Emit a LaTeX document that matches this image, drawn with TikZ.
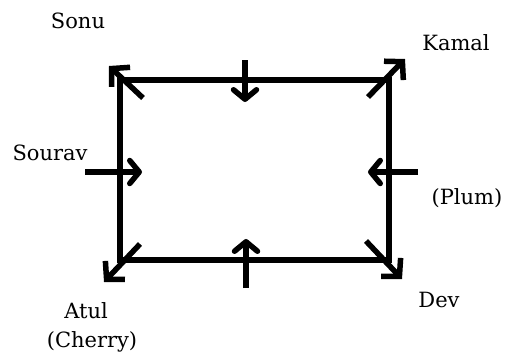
\documentclass[tikz,border=0pt]{standalone}
\usepackage{fontspec}
\setmainfont{DejaVu Serif}
\usetikzlibrary{arrows.meta}
\begin{document}
\begin{tikzpicture}[x=1pt,y=-1pt,
  edge/.style={line width=5.5pt, line cap=rect},
  cornerarrow/.style={line width=5.5pt, -{Straight Barb[length=12.5pt,width=27pt]}},
  midarrow/.style={line width=5.5pt, line join=round, -{Straight Barb[length=9.5pt,width=23pt,round]}},
  lbl/.style={font=\fontsize{21}{25}\selectfont, inner sep=0pt, anchor=base}]
\useasboundingbox (0,0) rectangle (505,356);
% rectangle corners
\coordinate (tl) at (120,80);
\coordinate (tr) at (389,80);
\coordinate (br) at (389,260);
\coordinate (bl) at (120,260);
\draw[edge] (tl) -- (tr) -- (br) -- (bl) -- cycle;
% corner arrows
\coordinate (tlin) at (143,98);  \coordinate (tlout) at (109,66);
\coordinate (trin) at (368,97);  \coordinate (trout) at (405,59);
\coordinate (blin) at (140,244); \coordinate (blout) at (104,282);
\coordinate (brin) at (366,241); \coordinate (brout) at (402,279);
\draw[cornerarrow] (tlin) -- (tlout);
\draw[cornerarrow] (trin) -- (trout);
\draw[cornerarrow] (blin) -- (blout);
\draw[cornerarrow] (brin) -- (brout);
% middle arrows
\coordinate (ts) at (245,60);  \coordinate (te) at (245,102);
\coordinate (bs) at (246,288); \coordinate (be) at (246,239);
\coordinate (ls) at (85,172);  \coordinate (le) at (142,172);
\coordinate (rs) at (418,172); \coordinate (re) at (368,172);
\draw[midarrow] (ts) -- (te);
\draw[midarrow] (bs) -- (be);
\draw[midarrow] (ls) -- (le);
\draw[midarrow] (rs) -- (re);
% labels
\node[lbl] (sonu)   at (78,28)   {Sonu};
\node[lbl] (kamal)  at (456,50)  {Kamal};
\node[lbl] (sourav) at (50,160)  {Sourav};
\node[lbl] (plum)   at (467,204) {(Plum)};
\node[lbl] (dev)    at (439,307) {Dev};
\node[lbl] (atul)   at (86,318)  {Atul};
\node[lbl] (cherry) at (92,347)  {(Cherry)};
\end{tikzpicture}
\end{document}
